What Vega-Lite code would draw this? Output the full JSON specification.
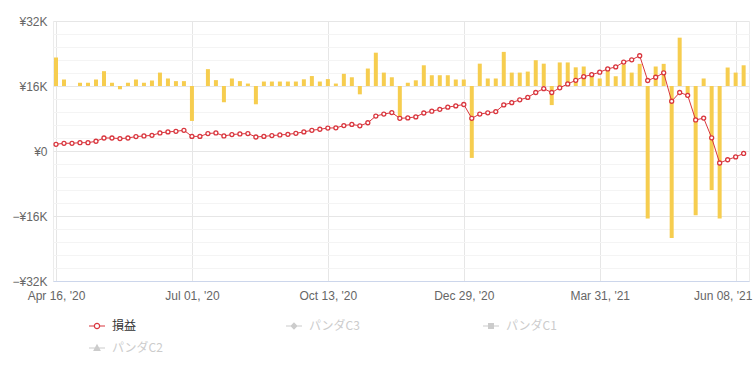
{
  "$schema": "https://vega.github.io/schema/vega-lite/v6.json",
  "width": 696,
  "height": 260,
  "autosize": {"type": "none"},
  "padding": {"left": 53, "top": 21, "right": 6, "bottom": 86},
  "background": "white",
  "config": {
    "font": "Liberation Sans, Noto Sans CJK JP",
    "view": {"stroke": "#ececec"},
    "axis": {"labelColor": "#666666", "labelFontSize": 12, "labelFont": "Liberation Sans", "titleColor": "#666666"}
  },
  "data": {
    "values": [
      {"i": 0, "pnl": 1650, "chg": 7000, "series": "損益"},
      {"i": 1, "pnl": 1900, "chg": 1600, "series": "損益"},
      {"i": 2, "pnl": 1900, "chg": 0, "series": "損益"},
      {"i": 3, "pnl": 2050, "chg": 800, "series": "損益"},
      {"i": 4, "pnl": 2050, "chg": 800, "series": "損益"},
      {"i": 5, "pnl": 2400, "chg": 1600, "series": "損益"},
      {"i": 6, "pnl": 3200, "chg": 3650, "series": "損益"},
      {"i": 7, "pnl": 3200, "chg": 800, "series": "損益"},
      {"i": 8, "pnl": 3050, "chg": -800, "series": "損益"},
      {"i": 9, "pnl": 3200, "chg": 800, "series": "損益"},
      {"i": 10, "pnl": 3550, "chg": 1600, "series": "損益"},
      {"i": 11, "pnl": 3700, "chg": 800, "series": "損益"},
      {"i": 12, "pnl": 3850, "chg": 1350, "series": "損益"},
      {"i": 13, "pnl": 4450, "chg": 3300, "series": "損益"},
      {"i": 14, "pnl": 4700, "chg": 1850, "series": "損益"},
      {"i": 15, "pnl": 4850, "chg": 1200, "series": "損益"},
      {"i": 16, "pnl": 5100, "chg": 1200, "series": "損益"},
      {"i": 17, "pnl": 3600, "chg": -8600, "series": "損益"},
      {"i": 18, "pnl": 3600, "chg": 0, "series": "損益"},
      {"i": 19, "pnl": 4300, "chg": 4150, "series": "損益"},
      {"i": 20, "pnl": 4450, "chg": 1450, "series": "損益"},
      {"i": 21, "pnl": 3700, "chg": -4000, "series": "損益"},
      {"i": 22, "pnl": 4050, "chg": 1850, "series": "損益"},
      {"i": 23, "pnl": 4200, "chg": 1200, "series": "損益"},
      {"i": 24, "pnl": 4300, "chg": 600, "series": "損益"},
      {"i": 25, "pnl": 3450, "chg": -4500, "series": "損益"},
      {"i": 26, "pnl": 3600, "chg": 1100, "series": "損益"},
      {"i": 27, "pnl": 3800, "chg": 1100, "series": "損益"},
      {"i": 28, "pnl": 3950, "chg": 1100, "series": "損益"},
      {"i": 29, "pnl": 4100, "chg": 1100, "series": "損益"},
      {"i": 30, "pnl": 4350, "chg": 1100, "series": "損益"},
      {"i": 31, "pnl": 4700, "chg": 1650, "series": "損益"},
      {"i": 32, "pnl": 5100, "chg": 2450, "series": "損益"},
      {"i": 33, "pnl": 5350, "chg": 1100, "series": "損益"},
      {"i": 34, "pnl": 5650, "chg": 1700, "series": "損益"},
      {"i": 35, "pnl": 5700, "chg": 600, "series": "損益"},
      {"i": 36, "pnl": 6250, "chg": 3000, "series": "損益"},
      {"i": 37, "pnl": 6550, "chg": 2150, "series": "損益"},
      {"i": 38, "pnl": 6200, "chg": -2050, "series": "損益"},
      {"i": 39, "pnl": 6950, "chg": 4300, "series": "損益"},
      {"i": 40, "pnl": 8600, "chg": 8200, "series": "損益"},
      {"i": 41, "pnl": 9100, "chg": 3300, "series": "損益"},
      {"i": 42, "pnl": 9450, "chg": 2150, "series": "損益"},
      {"i": 43, "pnl": 8050, "chg": -7700, "series": "損益"},
      {"i": 44, "pnl": 8150, "chg": 800, "series": "損益"},
      {"i": 45, "pnl": 8400, "chg": 1400, "series": "損益"},
      {"i": 46, "pnl": 9350, "chg": 5100, "series": "損益"},
      {"i": 47, "pnl": 9800, "chg": 2650, "series": "損益"},
      {"i": 48, "pnl": 10250, "chg": 2650, "series": "損益"},
      {"i": 49, "pnl": 10800, "chg": 2650, "series": "損益"},
      {"i": 50, "pnl": 11100, "chg": 1600, "series": "損益"},
      {"i": 51, "pnl": 11450, "chg": 1600, "series": "損益"},
      {"i": 52, "pnl": 8050, "chg": -17700, "series": "損益"},
      {"i": 53, "pnl": 9100, "chg": 5500, "series": "損益"},
      {"i": 54, "pnl": 9400, "chg": 1850, "series": "損益"},
      {"i": 55, "pnl": 9700, "chg": 1850, "series": "損益"},
      {"i": 56, "pnl": 11350, "chg": 8400, "series": "損益"},
      {"i": 57, "pnl": 11900, "chg": 3300, "series": "損益"},
      {"i": 58, "pnl": 12600, "chg": 3300, "series": "損益"},
      {"i": 59, "pnl": 13200, "chg": 3550, "series": "損益"},
      {"i": 60, "pnl": 14400, "chg": 6350, "series": "損益"},
      {"i": 61, "pnl": 15350, "chg": 5500, "series": "損益"},
      {"i": 62, "pnl": 14400, "chg": -4700, "series": "損益"},
      {"i": 63, "pnl": 15550, "chg": 5800, "series": "損益"},
      {"i": 64, "pnl": 16500, "chg": 5800, "series": "損益"},
      {"i": 65, "pnl": 17400, "chg": 4600, "series": "損益"},
      {"i": 66, "pnl": 18300, "chg": 4800, "series": "損益"},
      {"i": 67, "pnl": 18800, "chg": 3100, "series": "損益"},
      {"i": 68, "pnl": 19400, "chg": 1850, "series": "損益"},
      {"i": 69, "pnl": 20200, "chg": 4100, "series": "損益"},
      {"i": 70, "pnl": 20700, "chg": 2400, "series": "損益"},
      {"i": 71, "pnl": 21900, "chg": 5300, "series": "損益"},
      {"i": 72, "pnl": 22450, "chg": 3300, "series": "損益"},
      {"i": 73, "pnl": 23450, "chg": 5450, "series": "損益"},
      {"i": 74, "pnl": 17350, "chg": -32600, "series": "損益"},
      {"i": 75, "pnl": 18150, "chg": 4800, "series": "損益"},
      {"i": 76, "pnl": 19250, "chg": 5450, "series": "損益"},
      {"i": 77, "pnl": 12250, "chg": -37400, "series": "損益"},
      {"i": 78, "pnl": 14400, "chg": 11900, "series": "損益"},
      {"i": 79, "pnl": 13700, "chg": -2800, "series": "損益"},
      {"i": 80, "pnl": 7650, "chg": -31800, "series": "損益"},
      {"i": 81, "pnl": 8100, "chg": 1850, "series": "損益"},
      {"i": 82, "pnl": 3250, "chg": -25600, "series": "損益"},
      {"i": 83, "pnl": -2950, "chg": -32600, "series": "損益"},
      {"i": 84, "pnl": -2150, "chg": 4550, "series": "損益"},
      {"i": 85, "pnl": -1450, "chg": 3300, "series": "損益"},
      {"i": 86, "pnl": -600, "chg": 5100, "series": "損益"}
    ]
  },
  "layer": [
    {
      "mark": {"type": "bar", "size": 4, "color": "#f6cd4f"},
      "encoding": {
        "x": {
          "field": "i", "type": "quantitative",
          "scale": {"domain": [-0.375, 86.67], "nice": false, "zero": false, "padding": 0},
          "axis": {
            "title": null,
            "values": [0, 17, 34, 51, 68, 85],
            "labelExpr": "datum.value == 0 ? \"Apr 16, '20\" : datum.value == 17 ? \"Jul 01, '20\" : datum.value == 34 ? \"Oct 13, '20\" : datum.value == 51 ? \"Dec 29, '20\" : datum.value == 68 ? \"Mar 31, '21\" : \"Jun 08, '21\"",
            "grid": true, "gridColor": "#e6e6e6",
            "ticks": false, "domainColor": "#ccd6eb", "domainWidth": 1,
            "labelPadding": 9, "labelFlush": false,
            "labelOffset": {"condition": {"test": "datum.value == 85", "value": -13}, "value": 0}
          }
        },
        "y": {
          "field": "chg", "type": "quantitative",
          "scale": {"domain": [-48000, 16000], "nice": false},
          "axis": {
            "orient": "right", "title": null, "labels": false, "ticks": false, "domain": false,
            "grid": true, "gridColor": "#f4f4f4",
            "values": [-44800, -41600, -38400, -35200, -28800, -25600, -22400, -19200, -12800, -9600, -6400, -3200, 3200, 6400, 9600, 12800]
          }
        }
      }
    },
    {
      "encoding": {
        "x": {"field": "i", "type": "quantitative", "scale": {"domain": [-0.375, 86.67], "nice": false, "zero": false, "padding": 0}},
        "y": {
          "field": "pnl", "type": "quantitative",
          "scale": {"domain": [-32000, 32000], "nice": false},
          "axis": {
            "title": null,
            "values": [-32000, -16000, 0, 16000, 32000],
            "labelExpr": "datum.value == 0 ? '¥0' : (datum.value < 0 ? '−¥' : '¥') + abs(datum.value) / 1000 + 'K'",
            "grid": true, "gridColor": "#e6e6e6",
            "ticks": false, "domain": false, "labelPadding": 6
          }
        }
      },
      "layer": [
        {
          "mark": {"type": "line", "strokeWidth": 1},
          "encoding": {
            "color": {
              "field": "series", "type": "nominal",
              "scale": {"domain": ["損益", "パンダC3", "パンダC1", "パンダC2"], "range": ["#d9363e", "#cccccc", "#cccccc", "#cccccc"]},
              "legend": {
                "title": null,
                "orient": "none",
                "legendX": 35,
                "legendY": 296,
                "direction": "horizontal",
                "columns": 3,
                "columnPadding": 120,
                "rowPadding": 7,
                "symbolSize": 256,
                "labelFontSize": 12,
                "labelFont": "Noto Sans CJK JP",
                "labelOffset": 6,
                "encode": {
                  "symbols": {
                    "update": {
                      "shape": {"signal": "datum.value === '損益' ? 'M-1,0H-0.33M0.33,0H1M0.33,0A0.33,0.33 0 1 1 -0.33,0A0.33,0.33 0 1 1 0.33,0Z' : datum.value === 'パンダC3' ? 'M-1,0H1M0,-0.35L0.35,0L0,0.35L-0.35,0Z' : datum.value === 'パンダC1' ? 'M-1,0H1M-0.3,-0.3H0.3V0.3H-0.3Z' : 'M-1,0H1M0,-0.38L0.36,0.3H-0.36Z'"},
                      "fill": {"signal": "datum.value === '損益' ? 'white' : '#cccccc'"},
                      "stroke": {"signal": "datum.value === '損益' ? '#d9363e' : '#cccccc'"},
                      "strokeWidth": {"value": 1.2},
                      "opacity": {"value": 1}
                    }
                  },
                  "labels": {
                    "update": {
                      "fill": {"signal": "datum.value === '損益' ? '#333333' : '#cccccc'"}
                    }
                  }
                }
              }
            }
          }
        },
        {
          "mark": {"type": "point", "shape": "circle", "filled": false, "fill": "white", "fillOpacity": 1, "stroke": "#d9363e", "strokeWidth": 1.3, "size": 16, "opacity": 1}
        }
      ]
    }
  ],
  "resolve": {"scale": {"y": "independent"}}
}
